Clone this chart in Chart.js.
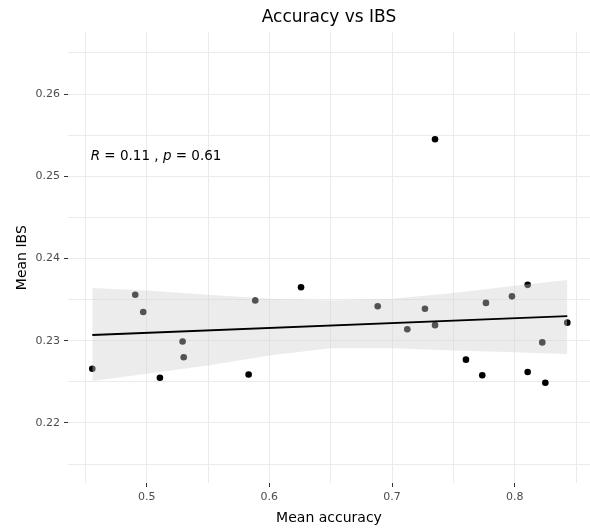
<!DOCTYPE html>
<html>
<head>
<meta charset="utf-8">
<script src="https://cdn.jsdelivr.net/npm/chart.js@4.4.1/dist/chart.umd.min.js"></script>
<style>
  html, body { margin: 0; padding: 0; background: #fff; }
  #wrap { width: 590px; height: 532px; position: relative; }
</style>
</head>
<body>
<div id="wrap"><canvas id="myChart"></canvas></div>
<script>
// points (mean accuracy, mean IBS)
const accuracy = [0.4557, 0.4907, 0.4972, 0.5108, 0.5293, 0.5302, 0.5831, 0.5885, 0.6258, 0.6883, 0.7124, 0.7268,
  0.7350, 0.7350, 0.7602, 0.7735, 0.7765, 0.7977, 0.8105, 0.8105, 0.8224, 0.8249, 0.8428];
const ibs = [0.2266, 0.2356, 0.2335, 0.2255, 0.2299, 0.2280, 0.2259, 0.2349, 0.2365, 0.2342, 0.2314, 0.2339,
  0.2319, 0.2545, 0.2277, 0.2258, 0.2346, 0.2354, 0.2368, 0.2262, 0.2298, 0.2249, 0.2322];

// regression line + confidence band
const fitX = [0.4557, 0.8428];
const fitY = [0.2307, 0.2330];
const bandX = [0.4557, 0.5, 0.55, 0.6, 0.65, 0.7, 0.75, 0.8, 0.8428];
const bandUpper = [0.2364, 0.2361, 0.2356, 0.2351, 0.2349, 0.2351, 0.2358, 0.2367, 0.2374];
const bandLower = [0.2251, 0.2260, 0.2270, 0.2282, 0.2291, 0.2291, 0.2288, 0.2286, 0.2284];

// axes
const xGrid = [0.45, 0.5, 0.55, 0.6, 0.65, 0.7, 0.75, 0.8, 0.85];
const xLabels = [0.5, 0.6, 0.7, 0.8];
const yGrid = [0.215, 0.22, 0.225, 0.23, 0.235, 0.24, 0.245, 0.25, 0.255, 0.26, 0.265];
const yLabels = [0.22, 0.23, 0.24, 0.25, 0.26];

// stats label
const statR = "0.11";
const statP = "0.61";
const labelX = 0.4544;
const labelY = 0.2524;

Chart.defaults.font.family = "'DejaVu Sans', sans-serif";

function isMajor(list, v) {
  return list.some((m) => Math.abs(m - v) < 1e-9);
}

const statsLabel = {
  id: "statsLabel",
  afterDatasetsDraw(chart) {
    const ctx = chart.ctx;
    const x0 = chart.scales.x.getPixelForValue(labelX);
    const y0 = chart.scales.y.getPixelForValue(labelY);
    const parts = [
      ["R", true], [" = " + statR + " , ", false], ["p", true], [" = " + statP, false],
    ];
    ctx.save();
    ctx.fillStyle = "#000";
    ctx.textBaseline = "middle";
    ctx.textAlign = "left";
    let x = x0;
    parts.forEach(function (p) {
      ctx.font = (p[1] ? "italic " : "") + "13.5px 'DejaVu Sans', sans-serif";
      ctx.fillText(p[0], x, y0);
      x += ctx.measureText(p[0]).width;
    });
    ctx.restore();
  },
};

let mychart = document.getElementById("myChart").getContext("2d");
let scatterChart = new Chart(mychart, {
  type: "scatter",
  data: {
    datasets: [
      {
        data: accuracy.map((v, i) => ({ x: v, y: ibs[i] })),
        backgroundColor: "#000",
        borderWidth: 0,
        pointRadius: 3.3,
        order: 3,
      },
      {
        data: bandX.map((v, i) => ({ x: v, y: bandLower[i] })),
        showLine: true,
        borderWidth: 0,
        borderColor: "rgba(0,0,0,0)",
        pointRadius: 0,
        fill: false,
        order: 2,
      },
      {
        data: bandX.map((v, i) => ({ x: v, y: bandUpper[i] })),
        showLine: true,
        borderWidth: 0,
        borderColor: "rgba(0,0,0,0)",
        backgroundColor: "rgba(207,207,207,0.4)",
        pointRadius: 0,
        fill: "-1",
        order: 2,
      },
      {
        data: fitX.map((v, i) => ({ x: v, y: fitY[i] })),
        showLine: true,
        borderColor: "#000",
        borderWidth: 1.8,
        pointRadius: 0,
        order: 1,
      },
    ],
  },
  options: {
    responsive: true,
    maintainAspectRatio: false,
    animation: false,
    events: [],
    layout: { padding: 0, autoPadding: false },
    plugins: {
      legend: { display: false },
      tooltip: { enabled: false },
      title: {
        display: true,
        text: "Accuracy vs IBS",
        color: "#000",
        fullSize: false,
        font: { size: 17, weight: "normal" },
        padding: { top: 7, bottom: 5 },
      },
    },
    scales: {
      x: {
        type: "linear",
        min: 0.4359,
        max: 0.8613,
        border: { display: false },
        afterBuildTicks: (s) => { s.ticks = xGrid.map((v) => ({ value: v })); },
        afterFit: (s) => { s.height = 49; },
        grid: {
          color: "#ebebeb",
          lineWidth: 1,
          tickLength: 4,
          tickColor: (c) => (c.tick && isMajor(xLabels, c.tick.value) ? "#333" : "rgba(0,0,0,0)"),
        },
        ticks: {
          autoSkip: false,
          maxRotation: 0,
          padding: 4,
          color: "#4d4d4d",
          font: { size: 11 },
          callback: (v) => (isMajor(xLabels, v) ? String(Math.round(v * 10) / 10) : ""),
        },
        title: {
          display: true,
          text: "Mean accuracy",
          color: "#000",
          font: { size: 14 },
          padding: { top: 0, bottom: 5.6 },
        },
      },
      y: {
        type: "linear",
        min: 0.2127,
        max: 0.2675,
        border: { display: false },
        afterBuildTicks: (s) => { s.ticks = yGrid.map((v) => ({ value: v })); },
        afterFit: (s) => { s.width = 68; },
        grid: {
          color: "#ebebeb",
          lineWidth: 1,
          tickLength: 4,
          tickColor: (c) => (c.tick && isMajor(yLabels, c.tick.value) ? "#333" : "rgba(0,0,0,0)"),
        },
        ticks: {
          autoSkip: false,
          padding: 4,
          color: "#4d4d4d",
          font: { size: 11 },
          callback: (v) => (isMajor(yLabels, v) ? (Math.round(v * 100) / 100).toFixed(2) : ""),
        },
        title: {
          display: true,
          text: "Mean IBS",
          color: "#000",
          font: { size: 14 },
          padding: { top: 14, bottom: 0 },
        },
      },
    },
  },
  plugins: [statsLabel],
});
</script>
</body>
</html>
